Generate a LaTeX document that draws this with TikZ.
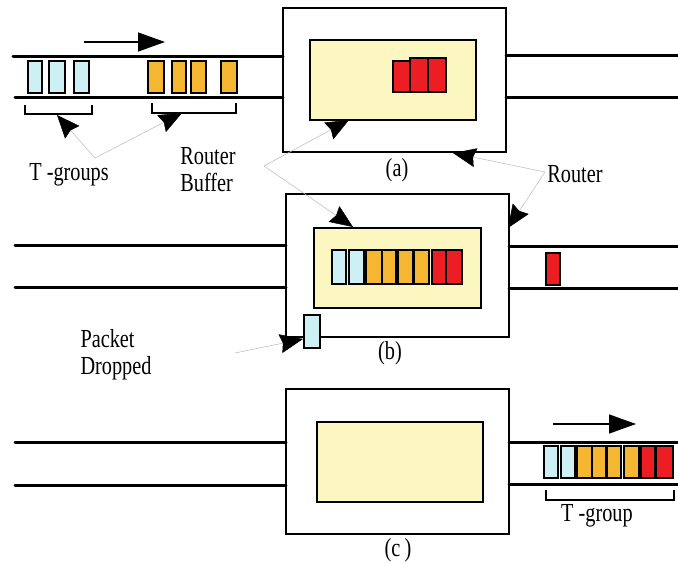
\documentclass[tikz,border=0pt]{standalone}
\usepackage{fontspec}
\setmainfont{Liberation Serif}[FakeStretch=0.78]
\usetikzlibrary{arrows.meta}

\definecolor{pktblue}{RGB}{204,240,244}
\definecolor{pktorange}{RGB}{245,183,50}
\definecolor{pktred}{RGB}{236,30,36}
\definecolor{bufyellow}{RGB}{252,246,192}

\tikzset{
  chan/.style={line width=3pt, line cap=round},
  routerbox/.style={draw, line width=1.4pt, fill=white, inner sep=0pt, outer sep=0pt},
  bufferbox/.style={draw, line width=1.4pt, fill=bufyellow, inner sep=0pt, outer sep=0pt},
  pkt/.style={draw, line width=1.2pt, inner sep=0pt, outer sep=0pt, minimum height=32pt},
  bpkt/.style={pkt, fill=pktblue},
  opkt/.style={pkt, fill=pktorange},
  rpkt/.style={pkt, fill=pktred},
  bracket/.style={line width=1.2pt},
  flow/.style={line width=1.4pt, -{Triangle[length=27pt,width=19pt]}},
  leader/.style={gray!55, line width=0.5pt, -{Stealth[length=23pt,width=19pt,inset=2.5pt,black]}},
  lbl/.style={font=\fontsize{26}{26}\selectfont, inner sep=0pt}
}

\begin{document}
\begin{tikzpicture}[x=1pt, y=-1pt]
\useasboundingbox (0,0) rectangle (678,564);

% ---------------- (a) ----------------
\node[routerbox, minimum width=223pt, minimum height=144pt] (ra) at (394.5,80) {};
\node[bufferbox, minimum width=166pt, minimum height=80pt] (ba) at (393,80) {};
\coordinate (aL1) at (13,57);  \coordinate (aL2) at (15,98);
\coordinate (aR1) at (678,56); \coordinate (aR2) at (678,98);
\draw[chan] (aL1) -- (aL1 -| ra.west);
\draw[chan] (aL2) -- (aL2 -| ra.west);
\draw[chan] (aR1 -| ra.east) -- (aR1);
\draw[chan] (aR2 -| ra.east) -- (aR2);

\node[bpkt, minimum width=14pt] (a1) at (35,77) {};
\node[bpkt, minimum width=16pt] (a2) at (57,77) {};
\node[bpkt, minimum width=15pt] (a3) at (81.5,77) {};
\node[opkt, minimum width=16pt] (a4) at (156,77) {};
\node[opkt, minimum width=14pt] (a5) at (179,77) {};
\node[opkt, minimum width=15pt] (a6) at (198.5,77) {};
\node[opkt, minimum width=16pt] (a7) at (229,77) {};
\node[rpkt, minimum width=17pt, minimum height=31pt] (a8) at (401.5,76.5) {};
\node[rpkt, minimum width=18pt, minimum height=34pt] (a9) at (419,75) {};
\node[rpkt, minimum width=18pt, minimum height=34pt] (a10) at (437,75) {};

\coordinate (af1) at (84,42); \coordinate (af2) at (165,42);
\draw[flow] (af1) -- (af2);

\draw[bracket] (25,105) -- (25,114) -- (92,114) -- (92,105);
\draw[bracket] (152,103) -- (152,113) -- (236,113) -- (236,103);

\node[lbl] (la) at (397,170) {(a)};

% ---------------- (b) ----------------
\node[routerbox, minimum width=223pt, minimum height=143pt] (rb) at (397.5,265.5) {};
\node[bufferbox, minimum width=167pt, minimum height=80pt] (bb) at (397.5,268) {};
\coordinate (bL1) at (15,246);  \coordinate (bL2) at (15,288);
\coordinate (bR1) at (678,247); \coordinate (bR2) at (678,289);
\draw[chan] (bL1) -- (bL1 -| rb.west);
\draw[chan] (bL2) -- (bL2 -| rb.west);
\draw[chan] (bR1 -| rb.east) -- (bR1);
\draw[chan] (bR2 -| rb.east) -- (bR2);

\node[bpkt, minimum width=14pt, minimum height=34pt] (b1) at (339,267) {};
\node[bpkt, minimum width=15pt, minimum height=34pt] (b2) at (356.5,267) {};
\node[opkt, minimum width=16pt, minimum height=34pt] (b3) at (374,267) {};
\node[opkt, minimum width=14pt, minimum height=34pt] (b4) at (389,267) {};
\node[opkt, minimum width=15pt, minimum height=34pt] (b5) at (405.5,267) {};
\node[opkt, minimum width=15pt, minimum height=34pt] (b6) at (421.5,267) {};
\node[rpkt, minimum width=14pt, minimum height=34pt] (b7) at (439,267) {};
\node[rpkt, minimum width=16pt, minimum height=34pt] (b8) at (454,267) {};
\node[rpkt, minimum width=14pt] (bout) at (553,269) {};
\node[bpkt, minimum width=16pt, minimum height=33pt] (bdrop) at (312,331.5) {};

\node[lbl] (lb) at (390,353) {(b)};

% ---------------- (c) ----------------
\node[routerbox, minimum width=223pt, minimum height=145pt] (rc) at (397.5,461.5) {};
\node[bufferbox, minimum width=166pt, minimum height=80pt] (bc) at (400,462) {};
\coordinate (cL1) at (15,442);  \coordinate (cL2) at (15,485);
\coordinate (cR1) at (678,442); \coordinate (cR2) at (678,484);
\draw[chan] (cL1) -- (cL1 -| rc.west);
\draw[chan] (cL2) -- (cL2 -| rc.west);
\draw[chan] (cR1 -| rc.east) -- (cR1);
\draw[chan] (cR2 -| rc.east) -- (cR2);

\node[bpkt, minimum width=14pt] (c1) at (551,462) {};
\node[bpkt, minimum width=14pt] (c2) at (568,462) {};
\node[opkt, minimum width=15pt] (c3) at (584.5,462) {};
\node[opkt, minimum width=14pt] (c4) at (599,462) {};
\node[opkt, minimum width=14pt] (c5) at (614,462) {};
\node[opkt, minimum width=15pt] (c6) at (631.5,462) {};
\node[rpkt, minimum width=14pt] (c7) at (648,462) {};
\node[rpkt, minimum width=17pt] (c8) at (664.5,462) {};

\coordinate (cf1) at (553,424); \coordinate (cf2) at (636,424);
\draw[flow] (cf1) -- (cf2);

\draw[bracket] (546,490) -- (546,500) -- (674,500) -- (674,490);

\node[lbl] (lc) at (398,550) {(c\,)};
\node[lbl] (ltg) at (597,516) {T -group};

% ---------------- labels and leaders ----------------
\node[lbl] (ltgs) at (69,175) {T -groups};
\node[lbl, align=left] (lrb) at (208,170) {Router\\[1pt]Buffer};
\node[lbl] (lr) at (575,174) {Router};
\node[lbl, align=left] (lpd) at (116,355) {Packet\\[1pt]Dropped};

\coordinate (tgApex) at (95,158);
\coordinate (rbApex) at (264,166);
\coordinate (rApex) at (545,172);
\coordinate (pdStart) at (235,353);

\draw[leader] (tgApex) -- (57,115);
\draw[leader] (tgApex) -- (182,113);
\draw[leader] (rbApex) -- (ba.south -| 349,0);
\draw[leader] (rbApex) -- (353,227);
\draw[leader] (rApex) -- (453,153);
\draw[leader] (rApex) -- (508,228);
\draw[leader] (pdStart) -- (303,339);
\end{tikzpicture}
\end{document}
